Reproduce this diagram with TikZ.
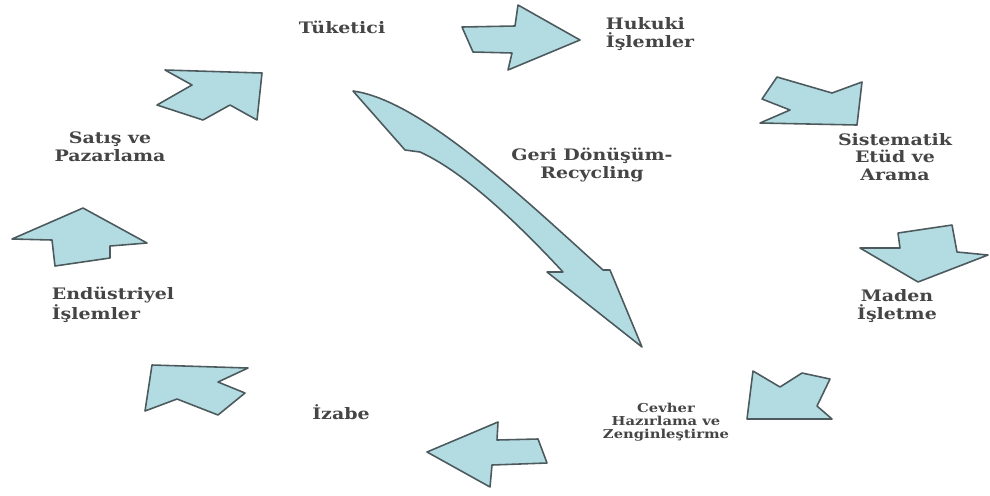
\documentclass[tikz,border=0pt]{standalone}
\usepackage{fontspec}
\setmainfont{DejaVu Serif}
\newfontfamily\lblfont[FakeStretch=1.2]{DejaVu Serif}
\usetikzlibrary{positioning}
\definecolor{figink}{HTML}{454545}
\definecolor{figedge}{HTML}{4C5A5E}
\definecolor{figfill}{HTML}{B3DCE2}

\begin{document}
\begin{tikzpicture}[
  x=0.02cm, y=-0.02cm,
  line width=0.9pt, line join=round,
  blockarrow/.style = {draw=figedge, fill=figfill, line width=0.9pt},
  lbl/.style = {font=\lblfont\bfseries\fontsize{9}{10}\selectfont, text=figink,
                align=center, inner sep=0pt},
  lblsmall/.style = {lbl, font=\lblfont\bfseries\fontsize{7}{7.4}\selectfont}
]
\useasboundingbox (0,0) rectangle (990,495);

% adimlar
\node[lbl] (tuketici) at (342,27) {Tüketici};
\node[lbl, align=left] (hukuki) at (650,34) {Hukuki\\İşlemler};
\node[lbl] (sistematik) at (895,157) {Sistematik\\Etüd ve\\Arama};
\node[lbl] (maden) at (897,306) {Maden\\İşletme};
\node[lblsmall] (cevher) at (666,422) {Cevher\\Hazırlama ve\\Zenginleştirme};
\node[lbl] (izabe) at (341,412) {İzabe};
\node[lbl, align=left] (endustriyel) at (113,305) {Endüstriyel\\İşlemler};
\node[lbl] (satis) at (110,147) {Satış ve\\Pazarlama};
\node[lbl] (geri) at (592,165) {Geri Dönüşüm-\\Recycling};

% halka uzerindeki oklar
\draw[blockarrow] (462,27) -- (515,26) -- (518,5) -- (580,40) -- (508,70)
  -- (512,53) -- (473,52) -- cycle;
\draw[blockarrow] (777,77) -- (832,93) -- (862,82) -- (857,125) -- (760,123)
  -- (790,110) -- (762,99) -- cycle;
\draw[blockarrow] (898,233) -- (952,225) -- (957,252) -- (988,255) -- (918,282)
  -- (860,248) -- (900,248) -- cycle;
\draw[blockarrow] (753,371) -- (780,387) -- (802,373) -- (830,379) -- (817,406)
  -- (832,419) -- (747,419) -- cycle;
\draw[blockarrow] (427,452) -- (498,422) -- (497,440) -- (538,439) -- (547,463)
  -- (492,465) -- (490,487) -- cycle;
\draw[blockarrow] (152,365) -- (248,368) -- (218,382) -- (245,393) -- (218,415)
  -- (177,399) -- (145,411) -- cycle;
\draw[blockarrow] (12,239) -- (83,208) -- (147,243) -- (110,246) -- (110,258)
  -- (55,266) -- (52,240) -- cycle;
\draw[blockarrow] (165,70) -- (262,73) -- (257,120) -- (230,105) -- (203,120)
  -- (157,105) -- (192,85) -- cycle;

% geri donusum oku
\draw[blockarrow] (353,91) .. controls (420,100) and (520,195) .. (603,270)
  -- (610,270) -- (642,347) -- (547,272) -- (563,272)
  .. controls (510,215) and (460,170) .. (420,152) -- (405,150) -- cycle;

\end{tikzpicture}
\end{document}
